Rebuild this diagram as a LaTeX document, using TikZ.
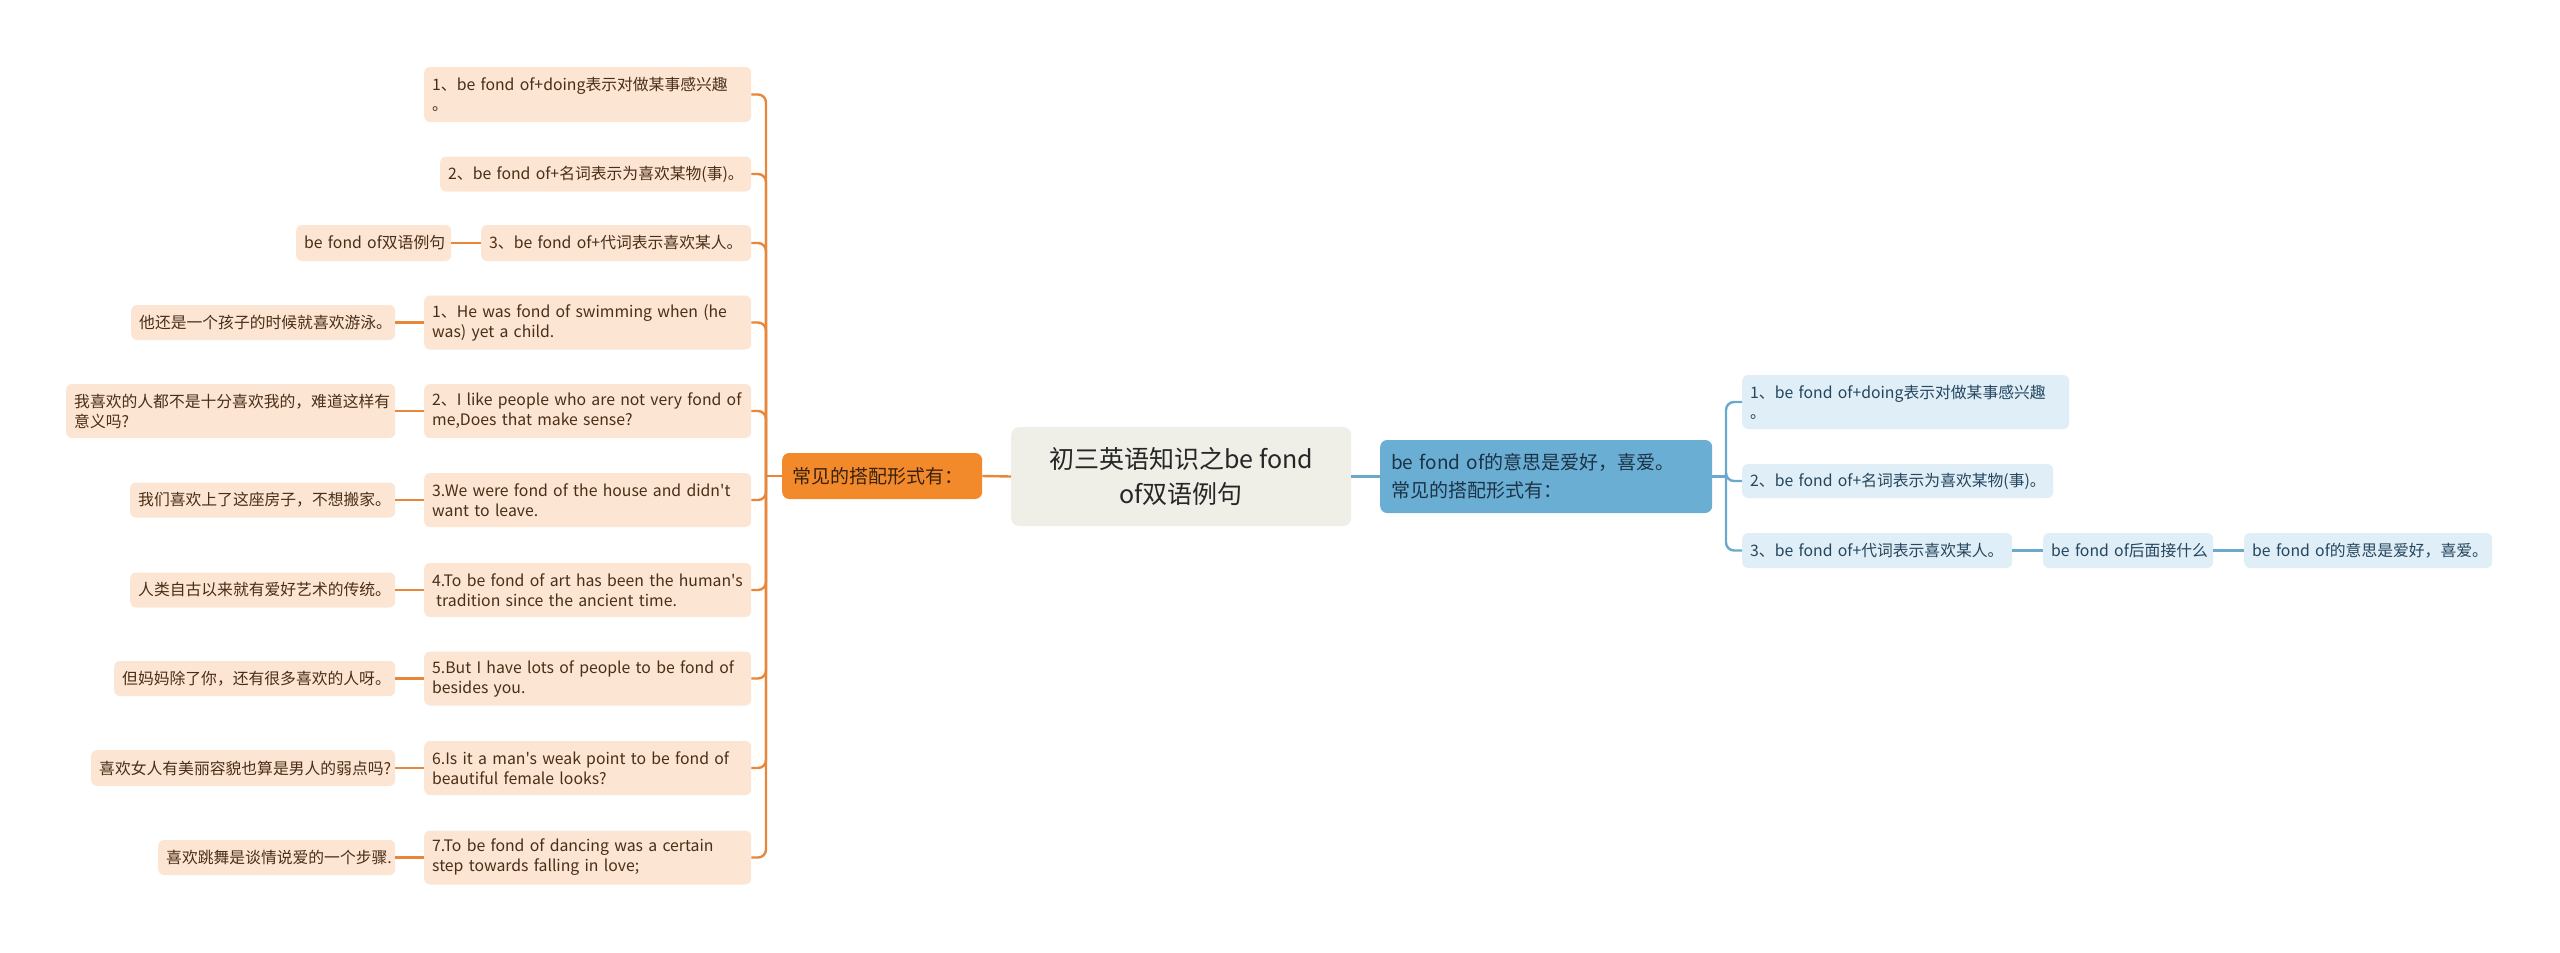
\documentclass[tikz,border=0pt]{standalone}
\usepackage{fontspec}
\newfontfamily\nf{Noto Sans CJK SC}
\newcommand\mb[1]{\mbox{#1}}
\definecolor{lfill}{HTML}{FCE5D2}
\definecolor{ltext}{HTML}{4A2E18}
\definecolor{oline}{HTML}{E8873A}
\definecolor{ofill}{HTML}{F28A2C}
\definecolor{otext}{HTML}{3A220E}
\definecolor{cfill}{HTML}{EFEFE7}
\definecolor{ctext}{HTML}{262626}
\definecolor{bfill}{HTML}{6AAED3}
\definecolor{btext}{HTML}{1C3347}
\definecolor{rfill}{HTML}{DFEEF7}
\definecolor{rtext}{HTML}{25465E}
\definecolor{bline}{HTML}{6AA8CC}
\begin{document}
\begin{tikzpicture}[x=1pt,y=-1pt,
  box/.style={rounded corners=6pt, inner xsep=8pt, inner ysep=0pt, anchor=west, align=left},
  lleaf/.style={box, fill=lfill, text=ltext, font=\nf\fontsize{15.8}{20}\selectfont},
  rleaf/.style={box, fill=rfill, text=rtext, font=\nf\fontsize{15.8}{20}\selectfont},
  olink/.style={draw=oline, line width=2.4pt},
  blink/.style={draw=bline, line width=2.4pt}]
\useasboundingbox (0,0) rectangle (2560,953);
\fill[white] (0,0) rectangle (2560,953);

% center
\node[rounded corners=8pt, fill=cfill, text=ctext, anchor=west, align=center,
  minimum width=340pt, minimum height=99pt, inner sep=0pt,
  font=\nf\fontsize{25}{35}\selectfont] (c) at (1011,476.5) {\mb{初三英语知识之be fond}\\\mb{of双语例句}};

% left root
\node[rounded corners=7pt, fill=ofill, text=otext, anchor=west, align=left,
  minimum width=200pt, minimum height=46pt, inner xsep=10pt, inner ysep=0pt, text width=180pt,
  font=\nf\fontsize{19}{26}\selectfont] (lr) at (782,476) {\mb{常见的搭配形式有：}};

% right root
\node[rounded corners=7pt, fill=bfill, text=btext, anchor=west, align=left,
  minimum width=332pt, minimum height=73pt, inner xsep=11pt, inner ysep=0pt, text width=310pt,
  font=\nf\fontsize{19}{28}\selectfont] (rr) at (1380,476.5) {\mb{be fond of的意思是爱好，喜爱。}\\\mb{常见的搭配形式有：}};

% left parents
\node[lleaf, minimum width=327pt, minimum height=55pt, text width=311pt] (L1) at (424,94.5) {\mb{1、be fond of+doing表示对做某事感兴趣}\\\mb{。}};
\node[lleaf, minimum width=311pt, minimum height=35pt, text width=295pt] (L2) at (440,174) {\mb{2、be fond of+名词表示为喜欢某物(事)。}};
\node[lleaf, minimum width=270pt, minimum height=36pt, text width=254pt] (L3) at (481,243) {\mb{3、be fond of+代词表示喜欢某人。}};
\node[lleaf, minimum width=327pt, minimum height=54pt, text width=311pt] (L4) at (424,322.5) {\mb{1、He was fond of swimming when (he}\\\mb{was) yet a child.}};
\node[lleaf, minimum width=327pt, minimum height=54pt, text width=311pt] (L5) at (424,411) {\mb{2、I like people who are not very fond of}\\\mb{me,Does that make sense?}};
\node[lleaf, minimum width=327pt, minimum height=54pt, text width=311pt] (L6) at (424,500) {\mb{3.We were fond of the house and didn't}\\\mb{want to leave.}};
\node[lleaf, minimum width=327pt, minimum height=54pt, text width=311pt] (L7) at (424,590) {\mb{4.To be fond of art has been the human's}\\\mb{\hspace{4pt}tradition since the ancient time.}};
\node[lleaf, minimum width=327pt, minimum height=54pt, text width=311pt] (L8) at (424,678.5) {\mb{5.But I have lots of people to be fond of}\\\mb{besides you.}};
\node[lleaf, minimum width=327pt, minimum height=54pt, text width=311pt] (L9) at (424,768) {\mb{6.Is it a man's weak point to be fond of}\\\mb{beautiful female looks?}};
\node[lleaf, minimum width=327pt, minimum height=54pt, text width=311pt] (L10) at (424,857.5) {\mb{7.To be fond of dancing was a certain}\\\mb{step towards falling in love;}};

% left children
\node[lleaf, minimum width=155pt, minimum height=36pt, text width=139pt] (L3c) at (296,243) {\mb{be fond of双语例句}};
\node[lleaf, minimum width=264pt, minimum height=35pt, text width=248pt] (L4c) at (131,322.5) {\mb{他还是一个孩子的时候就喜欢游泳。}};
\node[lleaf, minimum width=329pt, minimum height=54pt, text width=313pt] (L5c) at (66,411) {\mb{我喜欢的人都不是十分喜欢我的，难道这样有}\\\mb{意义吗?}};
\node[lleaf, minimum width=265pt, minimum height=35pt, text width=249pt] (L6c) at (130,500) {\mb{我们喜欢上了这座房子，不想搬家。}};
\node[lleaf, minimum width=265pt, minimum height=35pt, text width=249pt] (L7c) at (130,590) {\mb{人类自古以来就有爱好艺术的传统。}};
\node[lleaf, minimum width=281pt, minimum height=35pt, text width=265pt] (L8c) at (114,678.5) {\mb{但妈妈除了你，还有很多喜欢的人呀。}};
\node[lleaf, minimum width=304pt, minimum height=36pt, text width=288pt] (L9c) at (91,768) {\mb{喜欢女人有美丽容貌也算是男人的弱点吗?}};
\node[lleaf, minimum width=237pt, minimum height=35pt, text width=221pt] (L10c) at (158,857.5) {\mb{喜欢跳舞是谈情说爱的一个步骤.}};

% right leaves
\node[rleaf, minimum width=327pt, minimum height=54pt, text width=311pt] (R1) at (1742,402) {\mb{1、be fond of+doing表示对做某事感兴趣}\\\mb{。}};
\node[rleaf, minimum width=311pt, minimum height=34pt, text width=295pt] (R2) at (1742,481) {\mb{2、be fond of+名词表示为喜欢某物(事)。}};
\node[rleaf, minimum width=270pt, minimum height=35pt, text width=254pt] (R3) at (1742,550.5) {\mb{3、be fond of+代词表示喜欢某人。}};
\node[rleaf, minimum width=170pt, minimum height=35pt, text width=154pt] (R3c) at (2043,550.5) {\mb{be fond of后面接什么}};
\node[rleaf, minimum width=248pt, minimum height=35pt, text width=232pt] (R3cc) at (2244,550.5) {\mb{be fond of的意思是爱好，喜爱。}};

% connectors
\coordinate (lt) at (766,476);
\coordinate (rt) at (1726,476.5);
\draw[olink] (c.west) -- (lr.east);
\draw[blink] (c.east) -- (rr.west);
\draw[olink] (lr.west) -- (lt);
\foreach \n in {L1,L2,L3,L4,L5,L6,L7,L8,L9,L10}
  \draw[olink, rounded corners=8pt] (lt) |- (\n.east);
\foreach \n in {L3,L4,L5,L6,L7,L8,L9,L10}
  \draw[olink] (\n c.east) -- (\n.west);
\draw[blink] (rr.east) -- (rt);
\foreach \n in {R1,R2,R3}
  \draw[blink, rounded corners=8pt] (rt) |- (\n.west);
\draw[blink] (R3.east) -- (R3c.west);
\draw[blink] (R3c.east) -- (R3cc.west);
\end{tikzpicture}
\end{document}
